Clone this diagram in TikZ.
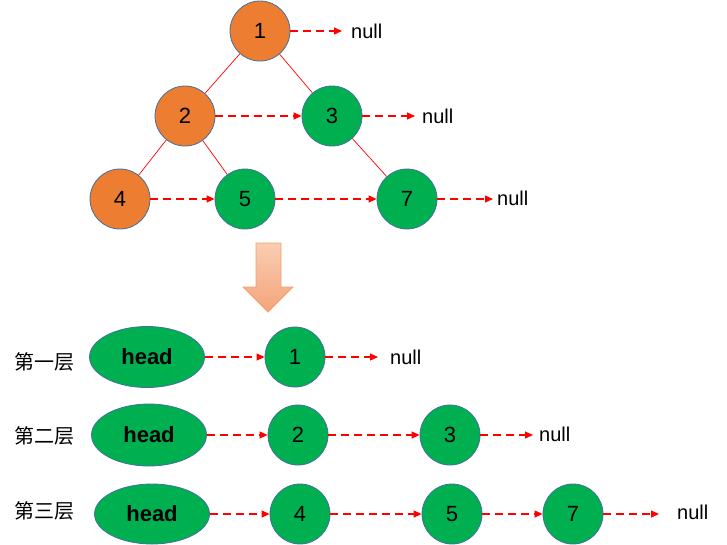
\documentclass[tikz,border=0pt]{standalone}
\usepackage{fontspec}
\setmainfont{Liberation Sans}
\newfontfamily\cjk{Noto Sans CJK SC}
\usetikzlibrary{positioning,arrows.meta,shapes.geometric}

\definecolor{treeorange}{HTML}{ED7D31}
\definecolor{listgreen}{HTML}{00B050}
\definecolor{rimblue}{HTML}{41719C}
\definecolor{peachtop}{HTML}{F9CDB2}
\definecolor{peachbot}{HTML}{F4A47A}
\definecolor{peachrim}{HTML}{F2A06C}

\begin{document}
\begin{tikzpicture}[x=1pt,y=-1pt,
	tn/.style={circle,draw=rimblue,line width=0.8pt,minimum size=60pt,inner sep=0pt,font=\fontsize{22}{24}\selectfont},
	on/.style={tn,fill=treeorange},
	gn/.style={tn,fill=listgreen},
	hd/.style={ellipse,draw=rimblue,line width=0.8pt,fill=listgreen,minimum width=115pt,minimum height=61pt,inner sep=0pt,font=\bfseries\fontsize{22}{24}\selectfont},
	nl/.style={anchor=west,inner sep=0pt,font=\fontsize{20}{22}\selectfont},
	lv/.style={font=\cjk\fontsize{20}{22}\selectfont},
	nx/.style={red,line width=1.2pt,dash pattern=on 8pt off 5pt,-{Triangle[length=8pt,width=7pt]}},
	tr/.style={red,line width=0.7pt}]

	\useasboundingbox (0,0) rectangle (727,544);

	% the tree
	\node [on] (t1) at (260,31) {1};
	\node [on] (t2) at (185,116) {2};
	\node [gn] (t3) at (332,116) {3};
	\node [on] (t4) at (120,199) {4};
	\node [gn] (t5) at (245,199) {5};
	\node [gn] (t7) at (407,199) {7};
	\node [nl] (z1) at (351,31) {null};
	\node [nl] (z3) at (422,116) {null};
	\node [nl] (z7) at (497,198) {null};

	\draw[tr](t1)--(t2);
	\draw[tr](t1)--(t3);
	\draw[tr](t2)--(t4);
	\draw[tr](t2)--(t5);
	\draw[tr](t3)--(t7);

	\draw[nx,shorten >=9pt](t1.east)--(z1.west);
	\draw[nx](t2)--(t3);
	\draw[nx,shorten >=7pt](t3.east)--(z3.west);
	\draw[nx](t4)--(t5);
	\draw[nx](t5)--(t7);
	\draw[nx,shorten >=4pt](t7.east)--(t7.east-|z7.west);

	% big arrow
	\shade[top color=peachtop,bottom color=peachbot,draw=peachrim,line width=0.8pt]
		(256,243)--(281,243)--(281,287)--(293,287)--(268,312)--(243,287)--(256,287)--cycle;

	% the levels
	\node [lv] (l1) at (44,362) {第一层};
	\node [lv] (l2) at (44,436) {第二层};
	\node [lv] (l3) at (44,511) {第三层};

	\node [hd] (h1) at (147,357) {head};
	\node [gn] (a1) at (295,357) {1};
	\node [nl] (y1) at (390,357) {null};

	\node [hd,minimum height=62pt] (h2) at (149,435) {head};
	\node [gn] (b2) at (298,435) {2};
	\node [gn] (b3) at (450,435) {3};
	\node [nl] (y2) at (539,434) {null};

	\node [hd,minimum height=60pt] (h3) at (152,514) {head};
	\node [gn] (c4) at (300,514) {4};
	\node [gn] (c5) at (452,514) {5};
	\node [gn] (c7) at (573,514) {7};
	\node [nl] (y3) at (677,512) {null};

	\draw[nx](h1)--(a1);
	\draw[nx,shorten >=12pt](a1.east)--(y1.west);
	\draw[nx](h2)--(b2);
	\draw[nx](b2)--(b3);
	\draw[nx,shorten >=6pt](b3.east)--(b3.east-|y2.west);
	\draw[nx](h3)--(c4);
	\draw[nx](c4)--(c5);
	\draw[nx](c5)--(c7);
	\draw[nx,shorten >=18pt](c7.east)--(c7.east-|y3.west);
\end{tikzpicture}
\end{document}
